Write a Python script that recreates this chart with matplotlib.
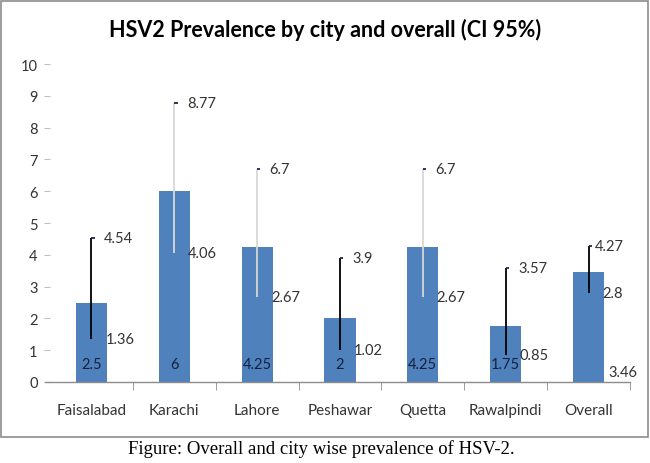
import matplotlib
matplotlib.use("Agg")
import matplotlib.pyplot as plt
from matplotlib.patches import Rectangle

cities = ['Faisalabad', 'Karachi', 'Lahore', 'Peshawar', 'Quetta', 'Rawalpindi', 'Overall']
prevalence = [2.5, 6, 4.25, 2, 4.25, 1.75, 3.46]
ci_low = [1.36, 4.06, 2.67, 1.02, 2.67, 0.85, 2.8]
ci_high = [4.54, 8.77, 6.7, 3.9, 6.7, 3.57, 4.27]
yticks = [0, 1, 2, 3, 4, 5, 6, 7, 8, 9, 10]

title = 'HSV2 Prevalence by city and overall (CI 95%)'
caption = 'Figure: Overall and city wise prevalence of HSV-2.'

plt.rcParams['font.family'] = ['Lato', 'DejaVu Sans']

fig = plt.figure(figsize=(6.5, 4.64), dpi=100)
ax = fig.add_axes([50/650, 1-383/464, 580/650, 318/464])

x = list(range(len(cities)))
ax.bar(x, prevalence, width=0.375, color='#4F81BD', zorder=2)

line_colors = ['#000000', '#d8d8d8', '#d8d8d8', '#000000', '#d8d8d8', '#000000', '#000000']
for i in x:
    ax.plot([i, i], [ci_low[i], ci_high[i]], color=line_colors[i], lw=1.3, zorder=3,
            solid_capstyle='butt')
    # small cap to the right of the top end
    ax.plot([i, i + 0.04], [ci_high[i], ci_high[i]], color='#1F2A55', lw=1.3, zorder=3,
            solid_capstyle='butt')
    hi_off = 4.5 if i == len(cities) - 1 else 9
    ax.annotate(f'{ci_high[i]:g}', xy=(i, ci_high[i]), xytext=(hi_off, 0),
                textcoords='offset points', ha='left', va='center', fontsize=10.5,
                color='#333333', zorder=4)
    ax.annotate(f'{ci_low[i]:g}', xy=(i, ci_low[i]), xytext=(10, 0),
                textcoords='offset points', ha='left', va='center', fontsize=10.5,
                color='#333333', zorder=4)
    if i == len(cities) - 1:
        ax.annotate(f'{prevalence[i]:g}', xy=(i, 0), xytext=(14, 7),
                    textcoords='offset points', ha='left', va='center', fontsize=10.5,
                    color='#333333', zorder=4)
    else:
        ax.annotate(f'{prevalence[i]:g}', xy=(i, 0), xytext=(0, 13),
                    textcoords='offset points', ha='center', va='center', fontsize=10.5,
                    color='#16213d', zorder=4)

ax.set_xlim(-0.5, len(cities) - 0.5)
ax.set_ylim(0, 10)
ax.set_yticks(yticks)
ax.set_yticklabels([str(t) for t in yticks])
ax.set_xticks(x)
ax.set_xticklabels(cities)
ax.set_xticks([i - 0.5 for i in range(1, len(cities) + 1)], minor=True)

for s in ['top', 'right', 'left']:
    ax.spines[s].set_visible(False)
ax.spines['bottom'].set_color('#8c8c8c')
ax.spines['bottom'].set_linewidth(1.0)
ax.spines['bottom'].set_bounds(-0.56, len(cities) - 0.5)

ax.tick_params(axis='y', direction='out', length=4, color='#bfbfbf', pad=5,
               labelsize=10.5, labelcolor='#333333')
ax.tick_params(axis='x', which='major', length=0, pad=15, labelsize=11, labelcolor='#333333')
ax.tick_params(axis='x', which='minor', direction='out', length=6, color='#8c8c8c')

fig.text(0.5, 1 - 30/464, title, ha='center', va='center', fontsize=15.5, fontweight='bold',
         color='#000000')
fig.text(321/650, 1 - 449/464, caption, ha='center', va='center', fontsize=13.5,
         family='Liberation Serif', color='#000000')

fig.patches.append(Rectangle((1/650, 1 - 438/464), 647/650, 436/464, transform=fig.transFigure,
                             fill=False, edgecolor='#8c8c8c', lw=1.2))

fig.savefig('out.png', dpi=100)
